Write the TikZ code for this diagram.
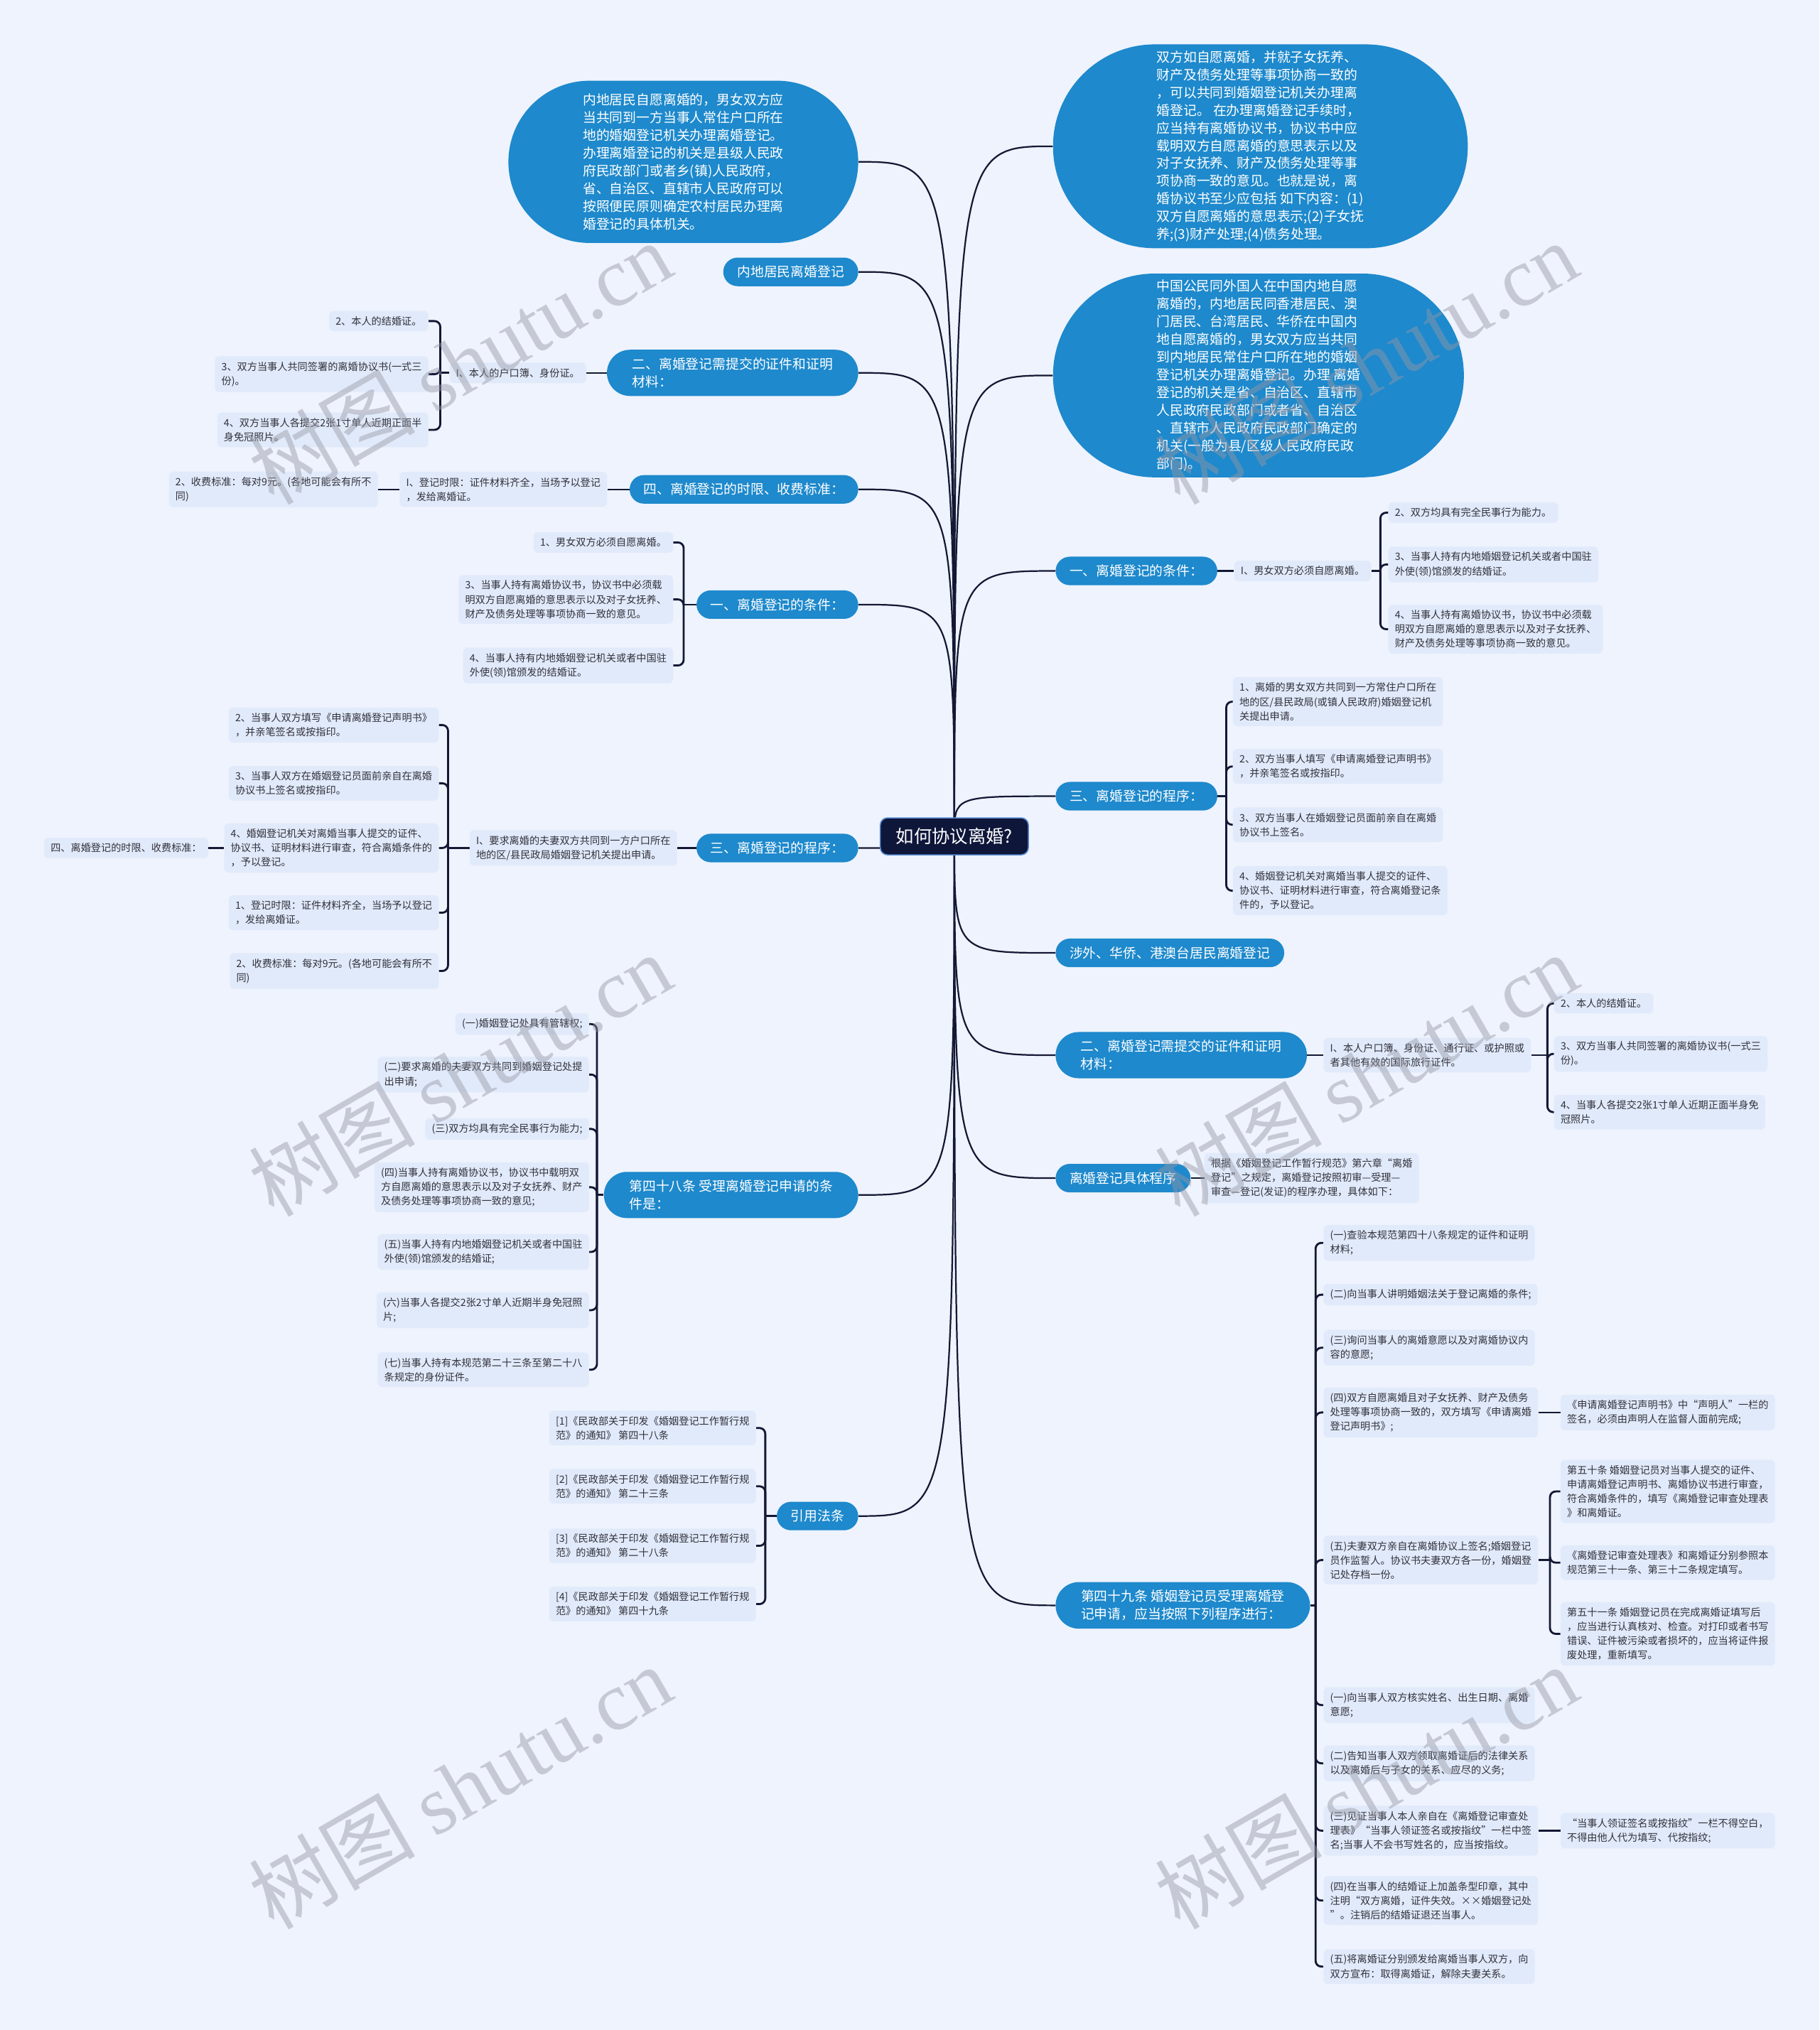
\documentclass[tikz,border=0pt]{standalone}
\usepackage{fontspec}
\setmainfont{Noto Sans CJK SC}
\newfontfamily\wmserif{Liberation Serif}
\usetikzlibrary{shapes.misc,calc}
\definecolor{bgc}{RGB}{238,243,253}
\definecolor{brc}{RGB}{30,137,204}
\definecolor{leafc}{RGB}{225,234,250}
\definecolor{lnc}{RGB}{20,24,52}
\definecolor{txc}{RGB}{50,50,60}
\definecolor{navy}{RGB}{14,22,58}
\definecolor{ctrb}{RGB}{90,140,210}
\definecolor{wmc}{RGB}{150,152,165}
\pgfdeclarelayer{bglayer}
\pgfdeclarelayer{edgelayer}
\pgfsetlayers{bglayer,edgelayer,main}
\begin{document}
\begin{tikzpicture}[x=0.9pt,y=-0.9pt,
  branch/.style={rounded rectangle, fill=brc, text=white, font=\fontsize{9.3}{12.3}\selectfont, inner xsep=8.7pt, inner ysep=5.6pt, align=left},
  twoline/.style={inner xsep=13.7pt},
  bubble/.style={branch, inner xsep=26pt, inner ysep=7pt},
  brL/.style={branch, anchor=east},
  brR/.style={branch, anchor=west},
  leaf/.style={fill=leafc, rounded corners=3pt, text=txc, font=\fontsize{7}{9.9}\selectfont, inner xsep=4.5pt, inner ysep=3.8pt, align=left},
  leafL/.style={leaf, anchor=east},
  leafR/.style={leaf, anchor=west},
  ctr/.style={fill=navy, draw=ctrb, line width=0.8pt, rounded corners=5pt, text=white, font=\fontsize{12.5}{14}\selectfont, inner xsep=11pt, inner ysep=7pt},
  link/.style={draw=lnc, line width=1.1pt},
  brk/.style={draw=lnc, line width=1.4pt, rounded corners=4pt},
  wm/.style={rotate=30, text=wmc, text opacity=0.45, font=\fontsize{58}{64}\selectfont}
]
\begin{pgfonlayer}{bglayer}
\fill[bgc] (0,0) rectangle (1405,1568);
\end{pgfonlayer}
\useasboundingbox (0,0) rectangle (1405,1568);

% center
\node[ctr] (C) at (737,646) {如何协议离婚?};

% ---------------- left branches
\node[bubble,anchor=east,inner ysep=9pt] (L1) at (663,125) {内地居民自愿离婚的，男女双方应\\当共同到一方当事人常住户口所在\\地的婚姻登记机关办理离婚登记。\\办理离婚登记的机关是县级人民政\\府民政部门或者乡(镇)人民政府，\\省、自治区、直辖市人民政府可以\\按照便民原则确定农村居民办理离\\婚登记的具体机关。};
\node[brL] (L2) at (663,210) {内地居民离婚登记};
\node[brL,twoline] (L3) at (663,288) {二、离婚登记需提交的证件和证明\\材料：};
\node[brL] (L4) at (663,378) {四、离婚登记的时限、收费标准：};
\node[brL] (L5) at (663,467) {一、离婚登记的条件：};
\node[brL] (L6) at (663,655) {三、离婚登记的程序：};
\node[brL,twoline] (L7) at (663,923) {第四十八条 受理离婚登记申请的条\\件是：};
\node[brL] (L8) at (663,1171) {引用法条};

% L3 group
\node[leafL] (L3a) at (453,288) {I、本人的户口簿、身份证。};
\coordinate (kL3) at (340,288);
\node[leafL] (L3c1) at (331,248) {2、本人的结婚证。};
\node[leafL] (L3c2) at (331,289) {3、双方当事人共同签署的离婚协议书(一式三\\份)。};
\node[leafL] (L3c3) at (331,332) {4、双方当事人各提交2张1寸单人近期正面半\\身免冠照片。};

% L4 group
\node[leafL] (L4a) at (469,378) {I、登记时限：证件材料齐全，当场予以登记\\，发给离婚证。};
\node[leafL] (L4b) at (292,378) {2、收费标准：每对9元。(各地可能会有所不\\同)};

% L5 group
\coordinate (kL5) at (528,467);
\node[leafL] (L5c1) at (520,419) {1、男女双方必须自愿离婚。};
\node[leafL] (L5c2) at (520,463) {3、当事人持有离婚协议书，协议书中必须载\\明双方自愿离婚的意思表示以及对子女抚养、\\财产及债务处理等事项协商一致的意见。};
\node[leafL] (L5c3) at (520,514) {4、当事人持有内地婚姻登记机关或者中国驻\\外使(领)馆颁发的结婚证。};

% L6 group
\node[leafL] (L6a) at (523,655) {I、要求离婚的夫妻双方共同到一方户口所在\\地的区/县民政局婚姻登记机关提出申请。};
\coordinate (kL6) at (346,655);
\node[leafL] (L6c1) at (339,560) {2、当事人双方填写《申请离婚登记声明书》\\，并亲笔签名或按指印。};
\node[leafL] (L6c2) at (339,605) {3、当事人双方在婚姻登记员面前亲自在离婚\\协议书上签名或按指印。};
\node[leafL] (L6c3) at (339,655) {4、婚姻登记机关对离婚当事人提交的证件、\\协议书、证明材料进行审查，符合离婚条件的\\，予以登记。};
\node[leafL] (L6c4) at (339,705) {1、登记时限：证件材料齐全，当场予以登记\\，发给离婚证。};
\node[leafL] (L6c5) at (339,750) {2、收费标准：每对9元。(各地可能会有所不\\同)};
\node[leafL] (L6x) at (161,655) {四、离婚登记的时限、收费标准：};

% L7 group
\coordinate (kL7) at (461,923);
\node[leafL] (L7c1) at (455,791) {(一)婚姻登记处具有管辖权;};
\node[leafL] (L7c2) at (455,830) {(二)要求离婚的夫妻双方共同到婚姻登记处提\\出申请;};
\node[leafL] (L7c3) at (455,872) {(三)双方均具有完全民事行为能力;};
\node[leafL] (L7c4) at (455,917) {(四)当事人持有离婚协议书，协议书中载明双\\方自愿离婚的意思表示以及对子女抚养、财产\\及债务处理等事项协商一致的意见;};
\node[leafL] (L7c5) at (455,967) {(五)当事人持有内地婚姻登记机关或者中国驻\\外使(领)馆颁发的结婚证;};
\node[leafL] (L7c6) at (455,1012) {(六)当事人各提交2张2寸单人近期半身免冠照\\片;};
\node[leafL] (L7c7) at (455,1058) {(七)当事人持有本规范第二十三条至第二十八\\条规定的身份证件。};

% L8 group
\coordinate (kL8) at (591,1171);
\node[leafL] (L8c1) at (584,1103) {[1]《民政部关于印发《婚姻登记工作暂行规\\范》的通知》 第四十八条};
\node[leafL] (L8c2) at (584,1148) {[2]《民政部关于印发《婚姻登记工作暂行规\\范》的通知》 第二十三条};
\node[leafL] (L8c3) at (584,1194) {[3]《民政部关于印发《婚姻登记工作暂行规\\范》的通知》 第二十八条};
\node[leafL] (L8c4) at (584,1239) {[4]《民政部关于印发《婚姻登记工作暂行规\\范》的通知》 第四十九条};

% ---------------- right branches
\node[bubble,anchor=west,inner ysep=4.5pt] (R1) at (813,113) {双方如自愿离婚，并就子女抚养、\\财产及债务处理等事项协商一致的\\，可以共同到婚姻登记机关办理离\\婚登记。 在办理离婚登记手续时，\\应当持有离婚协议书，协议书中应\\载明双方自愿离婚的意思表示以及\\对子女抚养、财产及债务处理等事\\项协商一致的意见。也就是说，离\\婚协议书至少应包括 如下内容：(1)\\双方自愿离婚的意思表示;(2)子女抚\\养;(3)财产处理;(4)债务处理。};
\node[bubble,anchor=west,inner ysep=4.5pt] (R2) at (813,290) {中国公民同外国人在中国内地自愿\\离婚的，内地居民同香港居民、澳\\门居民、台湾居民、华侨在中国内\\地自愿离婚的，男女双方应当共同\\到内地居民常住户口所在地的婚姻\\登记机关办理离婚登记。办理 离婚\\登记的机关是省、自治区、直辖市\\人民政府民政部门或者省、自治区\\、直辖市人民政府民政部门确定的\\机关(一般为县/区级人民政府民政\\部门)。};
\node[brR] (R3) at (815,441) {一、离婚登记的条件：};
\node[brR] (R4) at (815,615) {三、离婚登记的程序：};
\node[brR] (R5) at (815,736) {涉外、华侨、港澳台居民离婚登记};
\node[brR,twoline] (R6) at (815,815) {二、离婚登记需提交的证件和证明\\材料：};
\node[brR] (R7) at (815,910) {离婚登记具体程序};
\node[brR,twoline] (R8) at (815,1240) {第四十九条 婚姻登记员受理离婚登\\记申请，应当按照下列程序进行：};

% R3 group
\node[leafR] (R3a) at (953,441) {I、男女双方必须自愿离婚。};
\coordinate (kR3) at (1066,441);
\node[leafR] (R3c1) at (1072,396) {2、双方均具有完全民事行为能力。};
\node[leafR] (R3c2) at (1072,436) {3、当事人持有内地婚姻登记机关或者中国驻\\外使(领)馆颁发的结婚证。};
\node[leafR] (R3c3) at (1072,486) {4、当事人持有离婚协议书，协议书中必须载\\明双方自愿离婚的意思表示以及对子女抚养、\\财产及债务处理等事项协商一致的意见。};

% R4 group
\coordinate (kR4) at (947,615);
\node[leafR] (R4c1) at (952,542) {1、离婚的男女双方共同到一方常住户口所在\\地的区/县民政局(或镇人民政府)婚姻登记机\\关提出申请。};
\node[leafR] (R4c2) at (952,592) {2、双方当事人填写《申请离婚登记声明书》\\，并亲笔签名或按指印。};
\node[leafR] (R4c3) at (952,637) {3、双方当事人在婚姻登记员面前亲自在离婚\\协议书上签名。};
\node[leafR] (R4c4) at (952,688) {4、婚姻登记机关对离婚当事人提交的证件、\\协议书、证明材料进行审查，符合离婚登记条\\件的，予以登记。};

% R6 group
\node[leafR] (R6a) at (1022,815) {I、本人户口簿、身份证、通行证、或护照或\\者其他有效的国际旅行证件。};
\coordinate (kR6) at (1195,815);
\node[leafR] (R6c1) at (1200,775) {2、本人的结婚证。};
\node[leafR] (R6c2) at (1200,814) {3、双方当事人共同签署的离婚协议书(一式三\\份)。};
\node[leafR] (R6c3) at (1200,859) {4、当事人各提交2张1寸单人近期正面半身免\\冠照片。};

% R7 group
\node[leafR] (R7a) at (930,910) {根据《婚姻登记工作暂行规范》第六章“离婚\\登记”之规定，离婚登记按照初审—受理—\\审查—登记(发证)的程序办理，具体如下：};

% R8 group
\coordinate (kR8) at (1016,1240);
\node[leafR] (R8c1) at (1022,960) {(一)查验本规范第四十八条规定的证件和证明\\材料;};
\node[leafR] (R8c2) at (1022,1000) {(二)向当事人讲明婚姻法关于登记离婚的条件;};
\node[leafR] (R8c3) at (1022,1041) {(三)询问当事人的离婚意愿以及对离婚协议内\\容的意愿;};
\node[leafR] (R8c4) at (1022,1091) {(四)双方自愿离婚且对子女抚养、财产及债务\\处理等事项协商一致的，双方填写《申请离婚\\登记声明书》;};
\node[leafR] (R8c4a) at (1205,1091) {《申请离婚登记声明书》中“声明人”一栏的\\签名，必须由声明人在监督人面前完成;};
\node[leafR] (R8c5) at (1022,1205) {(五)夫妻双方亲自在离婚协议上签名;婚姻登记\\员作监誓人。协议书夫妻双方各一份，婚姻登\\记处存档一份。};
\coordinate (kR85) at (1197,1205);
\node[leafR] (R8c5a) at (1205,1152) {第五十条 婚姻登记员对当事人提交的证件、\\申请离婚登记声明书、离婚协议书进行审查，\\符合离婚条件的，填写《离婚登记审查处理表\\》和离婚证。};
\node[leafR] (R8c5b) at (1205,1207) {《离婚登记审查处理表》和离婚证分别参照本\\规范第三十一条、第三十二条规定填写。};
\node[leafR] (R8c5c) at (1205,1262) {第五十一条 婚姻登记员在完成离婚证填写后\\，应当进行认真核对、检查。对打印或者书写\\错误、证件被污染或者损坏的，应当将证件报\\废处理，重新填写。};
\node[leafR] (R8c6) at (1022,1317) {(一)向当事人双方核实姓名、出生日期、离婚\\意愿;};
\node[leafR] (R8c7) at (1022,1362) {(二)告知当事人双方领取离婚证后的法律关系\\以及离婚后与子女的关系、应尽的义务;};
\node[leafR] (R8c8) at (1022,1414) {(三)见证当事人本人亲自在《离婚登记审查处\\理表》“当事人领证签名或按指纹”一栏中签\\名;当事人不会书写姓名的，应当按指纹。};
\node[leafR] (R8c8a) at (1205,1414) {“当事人领证签名或按指纹”一栏不得空白，\\不得由他人代为填写、代按指纹;};
\node[leafR] (R8c9) at (1022,1468) {(四)在当事人的结婚证上加盖条型印章，其中\\注明“双方离婚，证件失效。××婚姻登记处\\”。注销后的结婚证退还当事人。};
\node[leafR] (R8c10) at (1022,1519) {(五)将离婚证分别颁发给离婚当事人双方，向\\双方宣布：取得离婚证，解除夫妻关系。};

% ---------------- connectors
\begin{pgfonlayer}{edgelayer}
\foreach \n in {L1,L2,L3,L4,L5,L6,L7,L8}
  \draw[link] (C.center) .. controls (C.center |- \n.east) .. (\n.east);
\foreach \n in {R1,R2,R3,R4,R5,R6,R7,R8}
  \draw[link] (C.center) .. controls (C.center |- \n.west) .. (\n.west);

\draw[link] (L3.west) -- (L3a.east);
\draw[brk] (L3a.west) -- (kL3);
\foreach \n in {L3c1,L3c2,L3c3} \draw[brk] (kL3) |- (\n.east);

\draw[link] (L4.west) -- (L4a.east);
\draw[link] (L4a.west) -- (L4b.east);

\draw[brk] (L5.west) -- (kL5);
\foreach \n in {L5c1,L5c2,L5c3} \draw[brk] (kL5) |- (\n.east);

\draw[link] (L6.west) -- (L6a.east);
\draw[brk] (L6a.west) -- (kL6);
\foreach \n in {L6c1,L6c2,L6c3,L6c4,L6c5} \draw[brk] (kL6) |- (\n.east);
\draw[link] (L6c3.west) -- (L6x.east);

\draw[brk] (L7.west) -- (kL7);
\foreach \n in {L7c1,L7c2,L7c3,L7c4,L7c5,L7c6,L7c7} \draw[brk] (kL7) |- (\n.east);

\draw[brk] (L8.west) -- (kL8);
\foreach \n in {L8c1,L8c2,L8c3,L8c4} \draw[brk] (kL8) |- (\n.east);

\draw[link] (R3.east) -- (R3a.west);
\draw[brk] (R3a.east) -- (kR3);
\foreach \n in {R3c1,R3c2,R3c3} \draw[brk] (kR3) |- (\n.west);

\draw[brk] (R4.east) -- (kR4);
\foreach \n in {R4c1,R4c2,R4c3,R4c4} \draw[brk] (kR4) |- (\n.west);

\draw[link] (R6.east) -- (R6a.west);
\draw[brk] (R6a.east) -- (kR6);
\foreach \n in {R6c1,R6c2,R6c3} \draw[brk] (kR6) |- (\n.west);

\draw[link] (R7.east) -- (R7a.west);

\draw[brk] (R8.east) -- (kR8);
\foreach \n in {R8c1,R8c2,R8c3,R8c4,R8c5,R8c6,R8c7,R8c8,R8c9,R8c10} \draw[brk] (kR8) |- (\n.west);
\draw[link] (R8c4.east) -- (R8c4a.west);
\draw[brk] (R8c5.east) -- (kR85);
\foreach \n in {R8c5a,R8c5b,R8c5c} \draw[brk] (kR85) |- (\n.west);
\draw[link] (R8c8.east) -- (R8c8a.west);
\end{pgfonlayer}

% ---------------- watermarks
\node[wm] (W1) at (355,280) {树图 {\wmserif shutu.cn}};
\node[wm] (W2) at (1055,280) {树图 {\wmserif shutu.cn}};
\node[wm] (W3) at (355,830) {树图 {\wmserif shutu.cn}};
\node[wm] (W4) at (1055,830) {树图 {\wmserif shutu.cn}};
\node[wm] (W5) at (355,1380) {树图 {\wmserif shutu.cn}};
\node[wm] (W6) at (1055,1380) {树图 {\wmserif shutu.cn}};
\end{tikzpicture}
\end{document}
